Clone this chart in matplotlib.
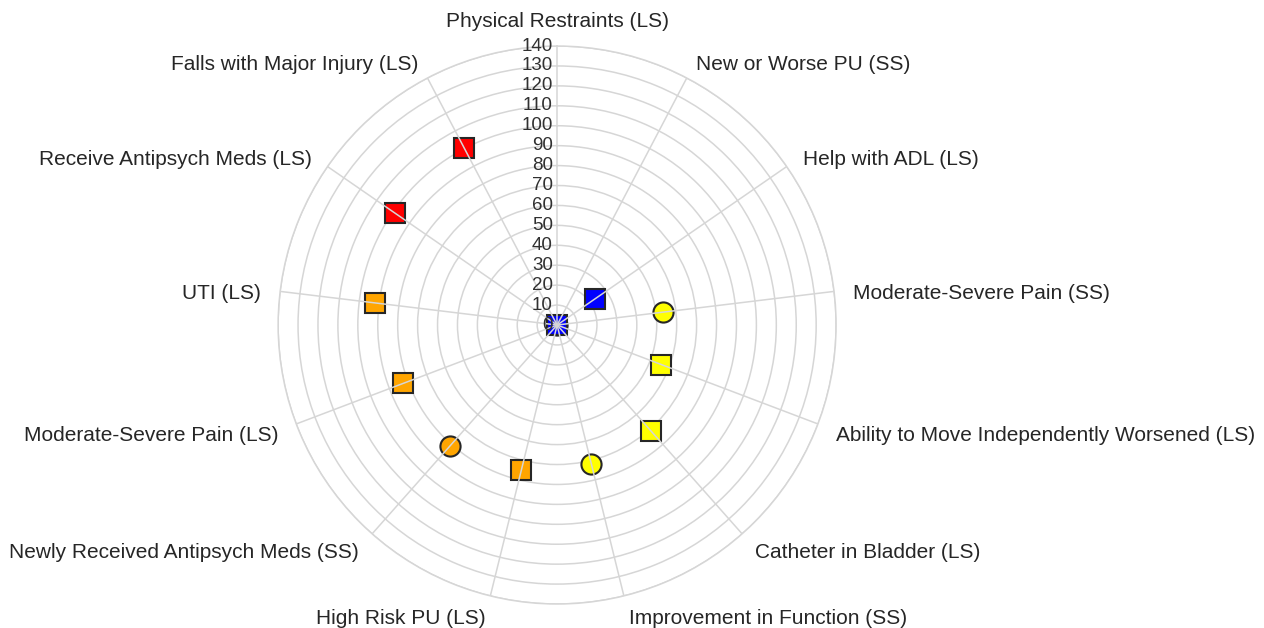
import matplotlib.pyplot as plt
import numpy as np

plt.rcParams['font.family'] = ['Liberation Sans', 'DejaVu Sans']

# categories clockwise from the top
categories = [
    'Physical Restraints (LS)', 'New or Worse PU (SS)', 'Help with ADL (LS)',
    'Moderate-Severe Pain (SS)', 'Ability to Move Independently Worsened (LS)',
    'Catheter in Bladder (LS)', 'Improvement in Function (SS)', 'High Risk PU (LS)',
    'Newly Received Antipsych Meds (SS)', 'Moderate-Severe Pain (LS)', 'UTI (LS)',
    'Receive Antipsych Meds (LS)', 'Falls with Major Injury (LS)',
]
values = [0, 0, 23, 53.5, 56, 71, 72, 75, 81, 82.5, 92, 99, 100.5]
colors = ['#0000ff', '#0000ff', '#0000ff', '#ffff00', '#ffff00', '#ffff00', '#ffff00',
          '#ffa500', '#ffa500', '#ffa500', '#ffa500', '#ff0000', '#ff0000']
shapes = ['s', 'o', 's', 'o', 's', 's', 'o', 's', 'o', 's', 's', 's', 's']
rticks = list(range(0, 141, 10))

n = len(categories)
thetas = np.arange(n) * 2 * np.pi / n
rmax = rticks[-1]

fig = plt.figure(figsize=(12.64, 6.28), dpi=100)
ax = fig.add_axes([0.2200, 0.0382, 0.4415, 0.8885], projection='polar')
ax.set_theta_offset(np.pi / 2)
ax.set_theta_direction(-1)
ax.set_ylim(0, rmax)

grid_col = '#d6d6d6'
ax.set_xticks([])
ax.set_yticks(rticks[1:])
ax.set_yticklabels([])
ax.tick_params(length=0)
ax.yaxis.grid(True, color=grid_col, linewidth=1.1)
ax.spines['polar'].set_color(grid_col)
ax.spines['polar'].set_linewidth(1.1)

for ang, val, col, mk in zip(thetas[::-1], values[::-1], colors[::-1], shapes[::-1]):
    ax.plot([ang], [val], marker=mk, ms=14.5, mfc=col, mec='#262626', mew=1.5,
            linestyle='none', zorder=2, clip_on=False)

# spokes sit on top of the markers, like the original
for ang in thetas:
    ax.plot([ang, ang], [0, rmax], color=grid_col, lw=1.1, zorder=3)

# radial value labels along the top spoke
for r in rticks:
    ax.annotate(str(r), xy=(0, r), xytext=(-3, 0), textcoords='offset points',
                ha='right', va='center', fontsize=13.5, color='#303030', zorder=4)

# category labels around the outside
for ang, lab in zip(thetas, categories):
    c, s = np.sin(ang), np.cos(ang)  # screen x, y direction (clockwise from top)
    if c > 0.05:
        ha = 'left'
    elif c < -0.05:
        ha = 'right'
    else:
        ha = 'center'
    va = 'bottom' if s > 0.95 else 'center'
    d = 14
    ax.annotate(lab, xy=(ang, rmax), xytext=(d * c, d * s - 3), textcoords='offset points',
                ha=ha, va=va, fontsize=15, color='#262626', annotation_clip=False)

fig.savefig('out.png', dpi=100, facecolor='white')
